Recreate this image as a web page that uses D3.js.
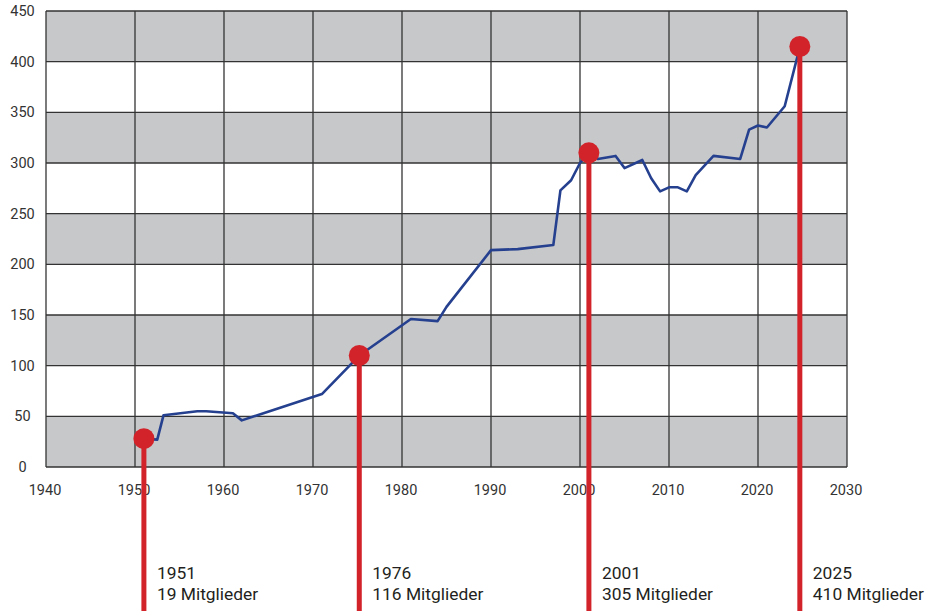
<!DOCTYPE html>
<html>
  <head>
    <meta charset="utf-8">
    <title>Mitglieder 1951 - 2025</title>
    <script src="https://d3js.org/d3.v7.min.js"></script>
    <style>
      body { margin: 0; background: #fff; }
      svg { display: block; font-family: Roboto, "Noto Sans", sans-serif; }
    </style>
  </head>
  <body>
    <svg id="chart"></svg>
    <script>
// membership line (year, members)
var years = [1951, 1952.5, 1953.2, 1957, 1958, 1961, 1962, 1971, 1975.2, 1981, 1984, 1985,
  1990, 1993, 1997, 1997.8, 1999, 2000, 2001, 2002, 2004, 2005, 2007, 2008, 2009, 2010,
  2011, 2012, 2013, 2015, 2018, 2019, 2020, 2021, 2023, 2024.4, 2024.7];
var members = [28, 27, 51, 55, 55, 53, 46, 72, 110, 146, 144, 158,
  214, 215, 219, 273, 283, 300, 310, 304, 307, 295, 303, 285, 272, 276,
  276, 272, 288, 307, 304, 333, 337, 335, 356, 404, 415];

// highlighted points
var markYears = [1951, 1975.2, 2001, 2024.7];
var markValues = [28, 110, 310, 415];
var markLabels = ["1951", "1976", "2001", "2025"];
var markCounts = [19, 116, 305, 410];

var xTicks = [1940, 1950, 1960, 1970, 1980, 1990, 2000, 2010, 2020, 2030];
var yTicks = [0, 50, 100, 150, 200, 250, 300, 350, 400, 450];

var W = 932, H = 611;
var margin = { top: 11, right: 85, bottom: 144, left: 46 };

var svg = d3.select("#chart")
  .attr("width", W)
  .attr("height", H);

var x = d3.scaleLinear()
  .domain([1940, 2030])
  .range([margin.left, W - margin.right]);

var y = d3.scaleLinear()
  .domain([0, 450])
  .range([H - margin.bottom, margin.top]);

// grey bands every other 50
var bands = d3.range(0, yTicks.length - 1).filter(function(i) { return i % 2 === 0; });
svg.selectAll(".band")
  .data(bands)
  .enter().append("rect")
  .attr("class", "band")
  .attr("x", x(1940))
  .attr("width", x(2030) - x(1940))
  .attr("y", function(i) { return y(yTicks[i + 1]); })
  .attr("height", function(i) { return y(yTicks[i]) - y(yTicks[i + 1]); })
  .style("fill", "#c7c8ca");

// grid
svg.selectAll(".hgrid")
  .data(yTicks)
  .enter().append("line")
  .attr("x1", x(1940)).attr("x2", x(2030))
  .attr("y1", function(d) { return y(d); })
  .attr("y2", function(d) { return y(d); })
  .style("stroke", "#333")
  .style("stroke-width", 1.3);

svg.selectAll(".vgrid")
  .data(xTicks)
  .enter().append("line")
  .attr("x1", function(d) { return x(d); })
  .attr("x2", function(d) { return x(d); })
  .attr("y1", y(0)).attr("y2", y(450))
  .style("stroke", "#333")
  .style("stroke-width", 1.3);

// tick labels
svg.selectAll(".ylab")
  .data(yTicks)
  .enter().append("text")
  .attr("x", 22.5)
  .attr("y", function(d) { return y(d); })
  .attr("dy", "0.35em")
  .style("text-anchor", "middle")
  .style("font-size", "14.5px")
  .style("fill", "#333")
  .text(function(d) { return d; });

svg.selectAll(".xlab")
  .data(xTicks)
  .enter().append("text")
  .attr("x", function(d) { return x(d) - 1; })
  .attr("y", 495)
  .style("text-anchor", "middle")
  .style("font-size", "14.5px")
  .style("fill", "#333")
  .text(function(d) { return d; });

// membership line
var line = d3.line()
  .x(function(d, i) { return x(years[i]); })
  .y(function(d) { return y(d); });

svg.append("path")
  .datum(members)
  .attr("d", line)
  .style("fill", "none")
  .style("stroke", "#25408f")
  .style("stroke-width", 2.6)
  .style("stroke-linejoin", "round");

// red markers with stems down to the labels
var marks = svg.selectAll(".mark")
  .data(markYears)
  .enter().append("g")
  .attr("class", "mark");

marks.append("line")
  .attr("x1", function(d) { return x(d); })
  .attr("x2", function(d) { return x(d); })
  .attr("y1", function(d, i) { return y(markValues[i]); })
  .attr("y2", H)
  .style("stroke", "#d2232a")
  .style("stroke-width", 5);

marks.append("circle")
  .attr("cx", function(d) { return x(d); })
  .attr("cy", function(d, i) { return y(markValues[i]); })
  .attr("r", 10.5)
  .style("fill", "#d2232a");

marks.append("text")
  .attr("x", function(d) { return x(d) + 13; })
  .attr("y", 579)
  .style("font-size", "17.4px")
  .style("fill", "#231f20")
  .text(function(d, i) { return markLabels[i]; });

marks.append("text")
  .attr("x", function(d) { return x(d) + 13; })
  .attr("y", 600)
  .style("font-size", "17.4px")
  .style("fill", "#231f20")
  .text(function(d, i) { return markCounts[i] + " Mitglieder"; });
    </script>
  </body>
</html>
